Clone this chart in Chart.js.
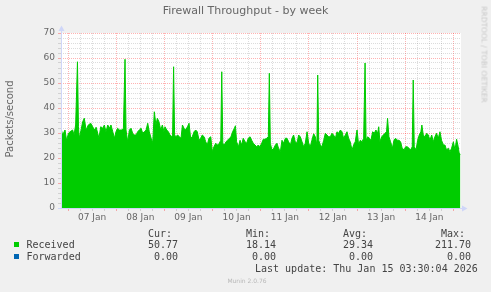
<!DOCTYPE html>
<html><head><meta charset="utf-8">
<script src="https://cdn.jsdelivr.net/npm/chart.js@4/dist/chart.umd.min.js"></script>
<style>
html,body{margin:0;padding:0;background:#f0f0f0;}
#wrap{position:relative;width:491px;height:292px;overflow:hidden;background:#f0f0f0;}
#c{position:absolute;left:0;top:0;}
.t{position:absolute;white-space:pre;font-family:"DejaVu Sans";color:#666;}
.m{position:absolute;white-space:pre;font-family:"DejaVu Sans Mono";font-size:10px;line-height:12px;color:#444;}
.sq{position:absolute;width:5px;height:5px;}
</style></head><body>
<div id="wrap">
<canvas id="c" width="491" height="292"></canvas>
<div class="t" style="left:0;width:491px;text-align:center;top:4px;font-size:11px;line-height:14px;">Firewall Throughput - by week</div>
<div class="t" style="left:-46px;width:112px;top:113px;text-align:center;font-size:10px;line-height:12px;transform:rotate(-90deg);">Packets/second</div>
<div class="t" style="left:424px;width:120px;top:50px;text-align:center;font-size:7.5px;line-height:9px;color:#c8c8c8;transform:rotate(90deg);">RRDTOOL / TOBI OETIKER</div>
<div id="legend"></div>
<div class="t" style="left:207px;width:80px;text-align:center;top:277px;font-size:6px;line-height:8px;color:#b8b8b8;">Munin 2.0.76</div>
</div>
<script>
// ---- data ----
const dayLabels = ['07 Jan','08 Jan','09 Jan','10 Jan','11 Jan','12 Jan','13 Jan','14 Jan'];
// hours relative to 07 Jan 00:00
const hours = [
-3.5,-2.7,-1.5,-0.7,0.2,1.0,2.3,3.0,3.8,4.7,5.2,5.6,6.5,7.3,8.1,9.0,10.1,11.3,12.3,13.1,
14.0,14.8,15.4,16.3,17.3,18.1,18.9,19.8,20.6,21.4,22.3,23.1,23.9,24.7,25.6,26.8,27.6,28.4,28.9,29.7,
30.6,31.4,32.2,33.0,33.9,34.7,35.5,36.4,37.2,38.0,38.9,39.7,40.5,41.4,42.2,43.0,43.8,44.5,45.3,46.2,
47.0,47.8,
48.3,49.2,50.0,50.8,51.6,52.1,52.6,53.1,53.8,54.6,55.5,56.3,57.0,57.8,58.6,59.5,60.3,61.1,61.9,62.8,
63.6,64.4,65.3,66.1,66.9,67.8,68.6,69.4,70.2,71.1,71.9,72.7,73.6,74.4,75.2,76.1,76.6,77.1,77.9,78.7,
79.5,80.4,81.2,82.0,82.9,83.4,84.0,84.9,85.7,86.5,87.3,88.2,89.0,89.8,90.7,91.5,92.3,93.2,94.0,94.8,
95.6,96.5,97.3,
98.1,99.0,99.8,100.3,100.8,101.6,102.5,103.3,104.1,104.9,105.8,106.6,107.4,108.3,109.1,109.9,110.8,111.6,112.4,113.2,
114.1,114.9,115.7,116.6,117.4,118.2,119.1,119.9,120.7,121.5,122.4,123.2,124.0,124.4,124.9,125.7,126.5,127.4,128.2,129.0,
129.9,130.7,131.5,132.3,133.2,134.0,134.8,135.7,136.5,137.3,138.2,139.0,139.8,140.6,141.5,142.3,143.1,144.0,144.8,145.6,
146.5,147.3,
148.0,148.5,149.3,150.1,150.9,151.8,152.6,153.4,154.3,154.8,155.4,156.3,157.1,157.9,158.7,159.2,159.9,160.7,161.6,162.4,
163.2,164.1,164.9,165.7,166.5,167.4,168.2,169.0,169.9,170.7,171.5,172.0,172.5,173.4,174.2,175.0,175.8,176.3,177.0,177.8,
178.7,179.5,180.3,181.2,182.0,182.8,183.6,184.5,185.3,186.1,187.0,187.8,188.6,189.5,190.3,191.1,192.0,192.8,193.6,194.4,
194.9,195.5];
const received = [
31.9,29.2,31.2,26.9,29.9,30.5,31.2,29.2,33.2,58.5,32.5,27.9,31.2,34.5,35.9,31.2,33.2,33.9,32.5,31.2,
32.3,29.9,27.9,32.5,31.9,33.2,30.5,33.2,31.9,33.2,30.5,27.9,30.5,31.9,31.2,31.2,31.9,59.5,31.2,26.5,
31.2,31.9,29.9,29.2,29.2,30.5,31.2,31.9,29.9,30.5,31.2,33.9,30.5,27.9,26.1,38.5,33.2,35.9,34.5,31.2,
33.2,30.5,
32.5,31.2,30.5,29.2,28.5,29.2,56.5,29.2,28.5,29.2,28.5,27.9,33.2,31.9,31.2,32.5,33.9,27.9,28.5,30.5,
31.2,30.5,27.1,27.9,29.2,28.5,26.5,25.2,27.9,28.5,22.5,24.5,25.9,25.2,25.6,27.1,54.5,25.9,25.2,26.5,
27.1,27.9,28.5,30.5,31.9,32.9,26.5,24.5,27.1,25.2,27.9,26.5,25.9,27.9,28.5,27.1,25.9,25.2,24.5,25.2,
24.5,25.9,27.5,
27.5,27.9,28.5,53.9,25.9,23.2,23.9,25.2,25.9,23.9,22.5,27.1,25.9,27.9,27.9,26.5,25.2,27.9,29.2,26.5,
25.9,29.2,28.5,26.5,24.5,25.9,30.5,25.9,24.5,27.1,29.7,28.5,25.2,53.2,27.1,25.2,24.5,27.1,29.9,29.2,
28.5,28.5,29.9,29.2,27.9,30.5,29.9,31.2,30.5,27.9,29.2,30.5,27.9,26.5,23.2,25.2,26.5,31.2,25.2,27.1,
26.5,27.9,
58.0,27.1,28.5,27.9,27.1,30.5,29.9,31.2,29.9,32.5,26.5,28.5,29.2,29.9,30.5,35.9,28.5,26.5,23.9,27.1,
27.9,27.1,27.1,26.5,23.9,23.2,24.5,24.5,23.9,23.2,24.5,51.2,24.5,23.2,27.1,29.2,30.5,33.2,29.2,28.5,
29.9,29.2,27.1,29.2,26.5,28.5,29.9,27.9,30.5,27.1,25.2,25.2,23.2,23.9,22.5,23.9,26.5,23.2,27.5,24.5,
21.9,21.5];
const seriesNames = ['Received','Forwarded'];
const statCur = [50.77, 0.00];
const statMin = [18.14, 0.00];
const statAvg = [29.34, 0.00];
const statMax = [211.70, 0.00];
const lastUpdate = 'Last update: Thu Jan 15 03:30:04 2026';

// ---- legend (HTML text) ----
const colors = ['#00cc00','#0066b3'];
const leg = document.getElementById('legend');
function add(cls, txt, style){ const d=document.createElement('div'); d.className=cls; d.textContent=txt; d.setAttribute('style',style); leg.appendChild(d); return d; }
const colRight = [178,276,373,471];
const heads = ['Cur:','Min:','Avg:','Max:'];
heads.forEach((h,i)=>add('m',h,`left:${colRight[i]-6-60}px;width:60px;text-align:right;top:227.5px;`));
const rowTop = [238.5,250.5];
seriesNames.forEach((n,r)=>{
  const sq=document.createElement('div'); sq.className='sq'; sq.style.left='14px'; sq.style.top=(rowTop[r]+3.5)+'px'; sq.style.background=colors[r]; leg.appendChild(sq);
  add('m',n,`left:26.5px;top:${rowTop[r]}px;`);
  [statCur,statMin,statAvg,statMax].forEach((arr,i)=>add('m',arr[r].toFixed(2),`left:${colRight[i]-80}px;width:80px;text-align:right;top:${rowTop[r]}px;`));
});
add('m',lastUpdate,'left:255px;top:262.5px;');

// ---- chart ----
const majorGrid = 'rgba(255,0,0,0.3)';
const minorGrid = 'rgba(128,128,128,0.28)';
const axisColor = '#cfd6f8';
const muninPlugin = {
  id:'munin',
  beforeDraw(chart){
    const {ctx, chartArea:a} = chart;
    ctx.save(); ctx.fillStyle='#ffffff';
    ctx.fillRect(a.left, a.top, a.right-a.left, a.bottom-a.top);
    ctx.restore();
  },
  afterDraw(chart){
    const {ctx, chartArea:a} = chart;
    const x0 = Math.round(a.left)+0.5, y0 = Math.round(a.bottom)+0.5;
    ctx.save();
    ctx.strokeStyle=axisColor; ctx.fillStyle=axisColor; ctx.lineWidth=1;
    ctx.beginPath(); ctx.moveTo(x0, a.top-3); ctx.lineTo(x0, y0); ctx.stroke();
    ctx.beginPath(); ctx.moveTo(a.left-3, y0); ctx.lineTo(a.right+1, y0); ctx.stroke();
    ctx.beginPath(); ctx.moveTo(x0-3, a.top-2); ctx.lineTo(x0+3, a.top-2); ctx.lineTo(x0, a.top-7.5); ctx.closePath(); ctx.fill();
    ctx.beginPath(); ctx.moveTo(a.right+1, y0-3); ctx.lineTo(a.right+1, y0+3); ctx.lineTo(a.right+6.5, y0); ctx.closePath(); ctx.fill();
    ctx.restore();
  }
};
new Chart(document.getElementById('c'), {
  type:'line',
  data:{ datasets:[{
    label:'Received',
    data: hours.map((h,i)=>({x:h, y:received[i]})),
    backgroundColor:'#00cc00', borderColor:'#00cc00', borderWidth:1,
    fill:'origin', pointRadius:0, tension:0
  }]},
  options:{
    responsive:false, animation:false, devicePixelRatio:1,
    layout:{ padding:{left:0, right:30, top:33, bottom:0} },
    plugins:{ legend:{display:false}, tooltip:{enabled:false}, title:{display:false} },
    scales:{
      x:{ type:'linear', min:-3.5, max:195.8,
        grid:{ color:c=> (c.tick && c.tick.value%24===0) ? majorGrid : minorGrid, lineWidth:1, tickLength:3 },
        border:{ display:false, dash:[1,1] },
        ticks:{ stepSize:6, autoSkip:false, maxRotation:0, minRotation:0, includeBounds:false, padding:1,
          color:'#666', font:{family:'DejaVu Sans', size:9},
          callback:v=> (v%24===12) ? (dayLabels[(v-12)/24] || '') : '' },
        afterFit:s=>{ s.height = 84; }
      },
      y:{ min:0, max:70,
        grid:{ color:c=> (c.tick && c.tick.value%10===0) ? majorGrid : minorGrid, lineWidth:1, tickLength:3 },
        border:{ display:false, dash:[1,1] },
        ticks:{ stepSize:2, autoSkip:false, padding:3, color:'#666', font:{family:'DejaVu Sans', size:9},
          callback:v=> (v%10===0) ? String(v) : '' },
        afterFit:s=>{ s.width = 61; }
      }
    }
  },
  plugins:[muninPlugin]
});
</script>
</body></html>
